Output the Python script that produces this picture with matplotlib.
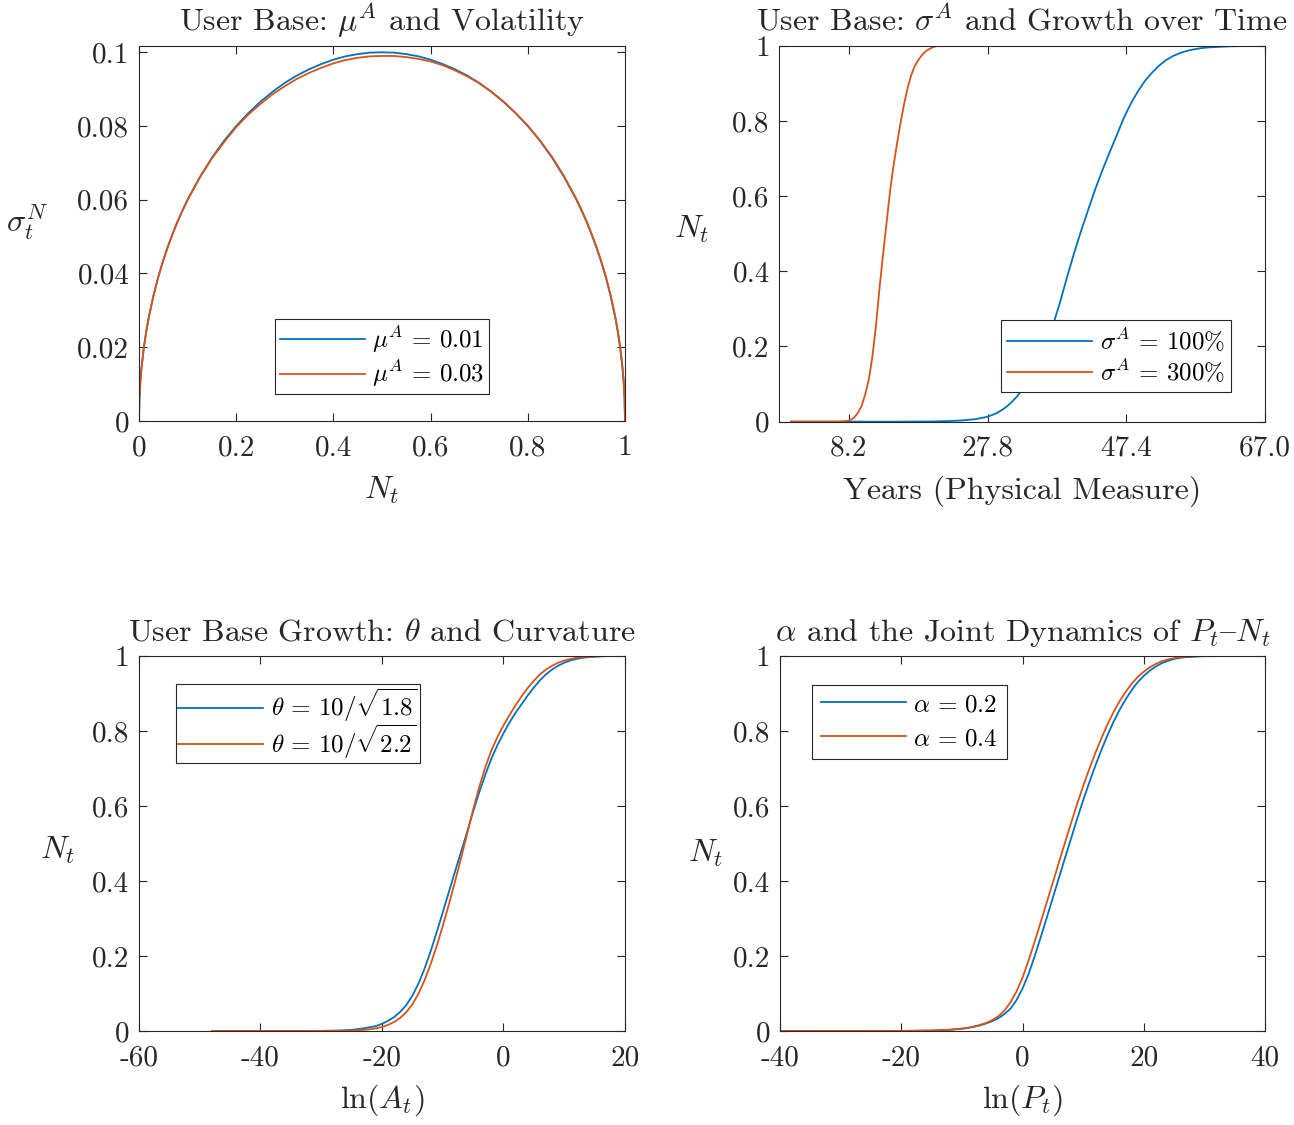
import matplotlib
matplotlib.use("Agg")
import matplotlib.pyplot as plt
from matplotlib.ticker import FixedLocator, FixedFormatter

plt.rcParams['font.family'] = ['cmr10', 'DejaVu Serif']
plt.rcParams['mathtext.fontset'] = 'cm'
plt.rcParams['axes.formatter.use_mathtext'] = True
plt.rcParams['axes.unicode_minus'] = False

BLUE = '#0072BD'
ORANGE = '#D95319'
AXC = '#262626'

# ---------------- Panel 1: sigma^N vs N ----------------
n_grid = [0.0, 0.001, 0.003, 0.005, 0.01, 0.015, 0.02, 0.03, 0.04, 0.05, 0.06, 0.07,
          0.08, 0.09, 0.10, 0.125, 0.15, 0.175, 0.20, 0.225, 0.25, 0.275, 0.30, 0.325,
          0.35, 0.375, 0.40, 0.425, 0.45, 0.475, 0.50, 0.525, 0.55, 0.575, 0.60, 0.625,
          0.65, 0.675, 0.70, 0.725, 0.75, 0.775, 0.80, 0.825, 0.85, 0.875, 0.90, 0.91,
          0.92, 0.93, 0.94, 0.95, 0.96, 0.97, 0.98, 0.985, 0.99, 0.995, 0.997, 0.999, 1.0]
sig_mu001 = [0.0, 0.0063, 0.0110, 0.0141, 0.0199, 0.0243, 0.0280, 0.0341, 0.0392, 0.0436,
             0.0475, 0.0510, 0.0543, 0.0572, 0.0600, 0.0661, 0.0714, 0.0760, 0.0800,
             0.0835, 0.0866, 0.0893, 0.0917, 0.0937, 0.0954, 0.0968, 0.0980, 0.0989,
             0.0995, 0.0999, 0.1000, 0.0999, 0.0995, 0.0989, 0.0980, 0.0968, 0.0954,
             0.0937, 0.0917, 0.0893, 0.0866, 0.0835, 0.0800, 0.0760, 0.0714, 0.0661,
             0.0600, 0.0572, 0.0543, 0.0510, 0.0475, 0.0436, 0.0392, 0.0341, 0.0280,
             0.0243, 0.0199, 0.0141, 0.0110, 0.0063, 0.0]
sig_mu003 = [0.0, 0.0063, 0.0110, 0.0141, 0.0199, 0.0243, 0.0280, 0.0341, 0.0392, 0.0436,
             0.0475, 0.0510, 0.0543, 0.0572, 0.0600, 0.0660, 0.0712, 0.0756, 0.0797,
             0.0831, 0.0860, 0.0886, 0.0908, 0.0928, 0.0944, 0.0958, 0.0970, 0.0979,
             0.0985, 0.0989, 0.0990, 0.0990, 0.0987, 0.0982, 0.0975, 0.0965, 0.0951,
             0.0935, 0.0916, 0.0893, 0.0866, 0.0835, 0.0801, 0.0761, 0.0716, 0.0663,
             0.0602, 0.0574, 0.0545, 0.0512, 0.0477, 0.0438, 0.0395, 0.0344, 0.0283,
             0.0246, 0.0202, 0.0144, 0.0112, 0.0064, 0.0]
labels_p1 = [r'$\mu^A \,=\, 0.01$', r'$\mu^A \,=\, 0.03$']

# ---------------- Panel 2: N vs years ----------------
years_s100 = [0, 15, 20, 22, 24, 26, 27.8, 29, 30, 31, 32, 33, 34, 35, 36, 37, 38, 39, 40,
              41, 42, 43, 44, 45, 46, 47, 48, 49, 50, 51, 52, 53, 54, 55, 56, 57, 58, 59,
              60, 62, 65.5]
n_s100 = [0, 0, 0.0005, 0.0015, 0.003, 0.0065, 0.013, 0.022, 0.033, 0.048, 0.068, 0.093,
          0.125, 0.163, 0.207, 0.255, 0.315, 0.383, 0.447, 0.507, 0.563, 0.618, 0.668,
          0.715, 0.760, 0.806, 0.845, 0.878, 0.906, 0.928, 0.947, 0.962, 0.973, 0.981,
          0.987, 0.991, 0.994, 0.996, 0.997, 0.999, 1.0]
years_s300 = [0, 4, 6, 7, 7.5, 8, 8.5, 9, 9.5, 10, 10.5, 11, 11.5, 12, 12.5, 13, 13.5, 14,
              14.5, 15, 15.5, 16, 16.5, 17, 17.5, 18, 18.5, 19, 19.5, 20, 20.5, 21, 21.9]
n_s300 = [0, 0, 0, 0.0003, 0.001, 0.002, 0.005, 0.012, 0.024, 0.042, 0.072, 0.11, 0.17,
          0.25, 0.35, 0.44, 0.525, 0.61, 0.68, 0.74, 0.795, 0.845, 0.888, 0.922, 0.946,
          0.962, 0.975, 0.985, 0.991, 0.996, 0.999, 1.0, 1.0]
labels_p2 = [r'$\sigma^A \,=\, 100\%$', r'$\sigma^A \,=\, 300\%$']
xticks_p2 = [8.2, 27.8, 47.4, 67.0]
xticklabels_p2 = ['8.2', '27.8', '47.4', '67.0']

# ---------------- Panel 3: N vs ln(A) ----------------
lnA_th18 = [-48, -35, -30, -27, -25, -23, -21, -20, -19, -18, -17, -16, -15, -14, -13,
            -12, -11, -10, -9, -8, -7, -6, -5, -4, -3, -2, -1, 0, 1, 2, 3, 4, 5, 6, 7,
            8, 9, 10, 11, 12, 13, 14, 15, 16, 17, 18.35]
n_th18 = [0, 0, 0.0003, 0.001, 0.003, 0.007, 0.013, 0.019, 0.027, 0.037, 0.051, 0.069,
          0.094, 0.126, 0.166, 0.212, 0.263, 0.316, 0.370, 0.424, 0.477, 0.530, 0.585,
          0.636, 0.683, 0.726, 0.762, 0.794, 0.823, 0.849, 0.872, 0.895, 0.916, 0.935,
          0.951, 0.964, 0.974, 0.982, 0.988, 0.992, 0.995, 0.997, 0.998, 0.999, 0.9997, 1.0]
lnA_th22 = [-48, -35, -30, -27, -25, -23, -22, -21, -20, -19, -18, -17, -16, -15, -14,
            -13, -12, -11, -10, -9, -8, -7, -6, -5, -4, -3, -2, -1, 0, 1, 2, 3, 4, 5, 6,
            7, 8, 9, 10, 11, 12, 13, 14, 15, 16, 18.35]
n_th22 = [0, 0, 0.0001, 0.0004, 0.001, 0.003, 0.0045, 0.007, 0.0105, 0.016, 0.024, 0.035,
          0.050, 0.071, 0.099, 0.135, 0.178, 0.226, 0.280, 0.337, 0.397, 0.460, 0.525,
          0.590, 0.650, 0.703, 0.748, 0.784, 0.815, 0.843, 0.869, 0.893, 0.915, 0.934,
          0.951, 0.964, 0.974, 0.982, 0.988, 0.992, 0.995, 0.997, 0.998, 0.999, 0.9997, 1.0]
labels_p3 = [r'$\theta \,=\, 10/\sqrt{1.8}$', r'$\theta \,=\, 10/\sqrt{2.2}$']

# ---------------- Panel 4: N vs ln(P) ----------------
lnP_a02 = [-39.7, -20, -15, -12, -10, -9, -8, -7, -6, -5, -4, -3, -2, -1, 0, 1, 2,
           3, 4, 5, 6, 7, 8, 9, 10, 11, 12, 13, 14, 15, 16, 17, 18, 19, 20, 21, 22, 23,
           24, 25, 26, 27, 28, 30, 36.8]
n_a02 = [0, 0.0001, 0.001, 0.003, 0.006, 0.008, 0.011, 0.015, 0.020, 0.026, 0.034,
         0.045, 0.059, 0.082, 0.113, 0.152, 0.199, 0.250, 0.302, 0.355, 0.408, 0.461,
         0.513, 0.565, 0.615, 0.662, 0.707, 0.749, 0.788, 0.824, 0.856, 0.884, 0.909,
         0.930, 0.947, 0.961, 0.972, 0.981, 0.987, 0.992, 0.995, 0.997, 0.998, 0.9995,
         1.0]
lnP_a04 = [-39.7, -20, -15, -12, -10, -9, -8, -7, -6, -5, -4, -3, -2, -1, 0, 1, 2,
           3, 4, 5, 6, 7, 8, 9, 10, 11, 12, 13, 14, 15, 16, 17, 18, 19, 20, 21, 22, 23,
           24, 25, 26, 27, 28.8]
n_a04 = [0, 0.0001, 0.0011, 0.0033, 0.0065, 0.0085, 0.012, 0.016, 0.0215, 0.029, 0.039,
         0.054, 0.076, 0.105, 0.142, 0.188, 0.238, 0.290, 0.343, 0.396, 0.449, 0.502,
         0.554, 0.605, 0.653, 0.698, 0.741, 0.780, 0.817, 0.850, 0.879, 0.904, 0.926,
         0.944, 0.958, 0.970, 0.979, 0.986, 0.991, 0.994, 0.997, 0.998, 1.0]
labels_p4 = [r'$\alpha \,=\, 0.2$', r'$\alpha \,=\, 0.4$']

unit_ticks = [0, 0.2, 0.4, 0.6, 0.8, 1.0]
unit_labels = ['0', '0.2', '0.4', '0.6', '0.8', '1']

TICK_FS = 21
LABEL_FS = 23
TITLE_FS = 23
LEG_FS = 18
LW = 1.3

fig = plt.figure(figsize=(12.94, 11.25), dpi=100)
ax1 = fig.add_axes([0.1074, 0.6258, 0.3756, 0.3333])
ax2 = fig.add_axes([0.6023, 0.6252, 0.3753, 0.3340])
ax3 = fig.add_axes([0.1074, 0.0836, 0.3756, 0.3333])
ax4 = fig.add_axes([0.6028, 0.0836, 0.3748, 0.3333])


def style(ax, xt, xtl, yt, ytl):
    ax.xaxis.set_major_locator(FixedLocator(xt))
    ax.xaxis.set_major_formatter(FixedFormatter(xtl))
    ax.yaxis.set_major_locator(FixedLocator(yt))
    ax.yaxis.set_major_formatter(FixedFormatter(ytl))
    ax.tick_params(direction='in', top=True, right=True, length=6, width=0.8,
                   colors=AXC, labelsize=TICK_FS)
    ax.tick_params(axis='x', pad=10)
    ax.tick_params(axis='y', pad=7)
    ax.minorticks_off()
    for s in ax.spines.values():
        s.set_color(AXC)
        s.set_linewidth(0.8)


def legend(ax, labels, anchor, ls=0.13, bp=0.2):
    leg = ax.legend(labels, loc='center', bbox_to_anchor=anchor, fontsize=LEG_FS,
                    frameon=True, fancybox=False, edgecolor=AXC, framealpha=1,
                    handlelength=3.4, handletextpad=0.3, borderpad=bp,
                    labelspacing=ls, borderaxespad=0)
    leg.get_frame().set_linewidth(0.8)
    return leg


def ylab(ax, text, x, y):
    ax.set_ylabel(text, fontsize=LABEL_FS, rotation=0, color=AXC)
    ax.yaxis.label.set_ha('center')
    ax.yaxis.label.set_va('center')
    ax.yaxis.set_label_coords(x, y)


def xlab(ax, text, y):
    ax.set_xlabel(text, fontsize=LABEL_FS, color=AXC)
    ax.xaxis.label.set_va('center')
    ax.xaxis.set_label_coords(0.5, y)


def title(ax, text):
    ax.set_title(text, fontsize=TITLE_FS, pad=11, color=AXC)


# Panel 1
ax1.plot(n_grid, sig_mu001, color=BLUE, lw=LW)
ax1.plot(n_grid, sig_mu003, color=ORANGE, lw=LW)
ax1.set_xlim(0, 1)
ax1.set_ylim(0, 0.1017)
style(ax1, [0, 0.2, 0.4, 0.6, 0.8, 1.0], ['0', '0.2', '0.4', '0.6', '0.8', '1'],
      [0, 0.02, 0.04, 0.06, 0.08, 0.1], ['0', '0.02', '0.04', '0.06', '0.08', '0.1'])
title(ax1, r'User Base: $\mu^A$ and Volatility')
ylab(ax1, r'$\sigma_t^N$', -0.23, 0.53)
xlab(ax1, r'$N_t$', -0.184)
legend(ax1, labels_p1, (0.5, 0.172))

# Panel 2
ax2.plot(years_s100, n_s100, color=BLUE, lw=LW)
ax2.plot(years_s300, n_s300, color=ORANGE, lw=LW)
ax2.set_xlim(-1.62, 67.0)
ax2.set_ylim(0, 1)
style(ax2, xticks_p2, xticklabels_p2, unit_ticks, unit_labels)
title(ax2, r'User Base: $\sigma^A$ and Growth over Time')
ylab(ax2, r'$N_t$', -0.181, 0.513)
xlab(ax2, 'Years (Physical Measure)', -0.184)
legend(ax2, labels_p2, (0.693, 0.175), bp=0.25)

# Panel 3
ax3.plot(lnA_th18, n_th18, color=BLUE, lw=LW)
ax3.plot(lnA_th22, n_th22, color=ORANGE, lw=LW)
ax3.set_xlim(-60, 20)
ax3.set_ylim(0, 1)
style(ax3, [-60, -40, -20, 0, 20], ['-60', '-40', '-20', '0', '20'], unit_ticks, unit_labels)
title(ax3, r'User Base Growth: $\theta$ and Curvature')
ylab(ax3, r'$N_t$', -0.167, 0.483)
xlab(ax3, r'$\ln(A_t)$', -0.184)
legend(ax3, labels_p3, (0.3266, 0.819), ls=-0.08, bp=0.1)

# Panel 4
ax4.plot(lnP_a02, n_a02, color=BLUE, lw=LW)
ax4.plot(lnP_a04, n_a04, color=ORANGE, lw=LW)
ax4.set_xlim(-40, 40)
ax4.set_ylim(0, 1)
style(ax4, [-40, -20, 0, 20, 40], ['-40', '-20', '0', '20', '40'], unit_ticks, unit_labels)
title(ax4, r'$\alpha$ and the Joint Dynamics of $P_t${$N_t$')
ylab(ax4, r'$N_t$', -0.153, 0.475)
xlab(ax4, r'$\ln(P_t)$', -0.184)
legend(ax4, labels_p4, (0.267, 0.8245), ls=0.46, bp=0.34)

fig.savefig('out.png', dpi=100, facecolor='white')
